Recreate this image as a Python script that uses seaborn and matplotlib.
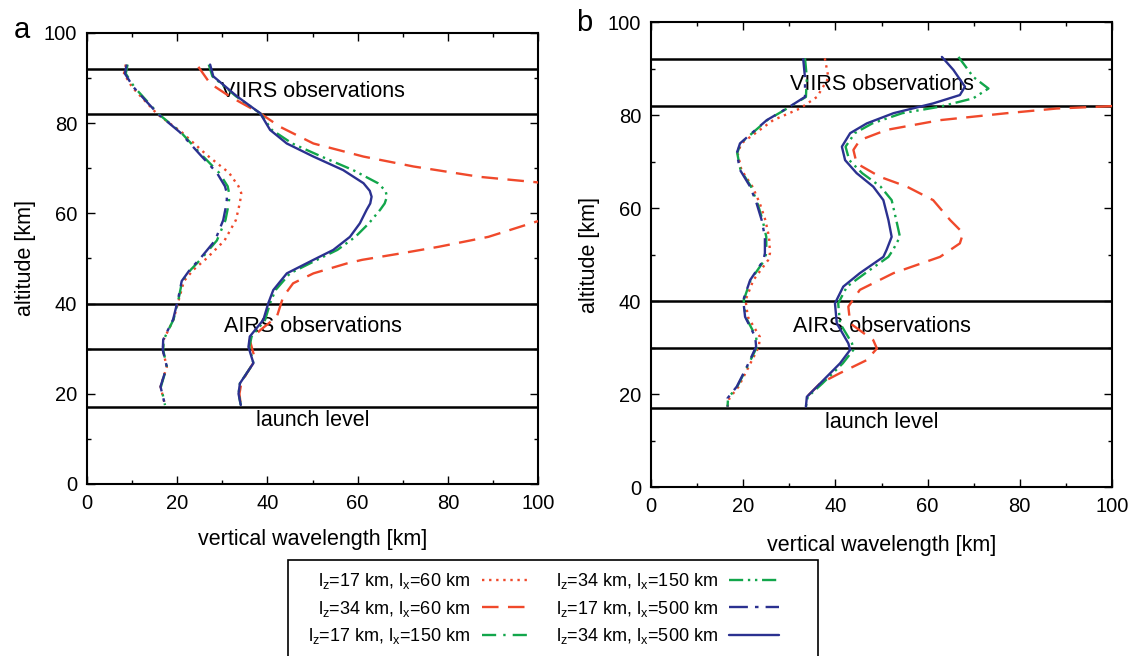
import numpy as np
import pandas as pd
import seaborn as sns
import matplotlib.pyplot as plt
from matplotlib.patches import Rectangle
from matplotlib.ticker import MultipleLocator

# ---- data: altitude [km] vs vertical wavelength [km] ----
# panel a
a_alt_17 = [93, 91, 88, 85, 82, 78, 73, 69, 66, 64.5, 63, 61, 58.5, 54, 50, 47.5, 45, 41, 36.5, 32, 29.7, 26, 21.6, 17.5]
a_17_60 = [8.6, 8.2, 10.0, 12.8, 15.6, 21.0, 26.5, 31.5, 33.6, 34.2, 34.0, 33.6, 33.0, 30.5, 26.5, 23.6, 21.5, 20.4, 19.2, 17.0, 16.8, 17.7, 16.3, 17.3]
a_17_150 = [9.0, 8.6, 10.5, 13.2, 15.9, 20.8, 25.4, 29.3, 31.2, 31.5, 31.5, 31.2, 30.7, 28.8, 25.4, 23.0, 21.1, 20.3, 19.2, 17.0, 16.9, 17.7, 16.4, 17.3]
a_17_500 = [8.8, 8.4, 10.3, 13.0, 15.8, 20.6, 25.1, 28.8, 30.6, 31.0, 31.0, 30.7, 30.2, 28.4, 25.1, 22.8, 21.0, 20.2, 19.1, 16.9, 16.8, 17.7, 16.3, 17.3]

a_alt_34 = [93, 90.4, 86, 82.2, 78.5, 75.5, 72.6, 69.6, 66.7, 65, 63.7, 62.2, 60.8, 57.8, 54.8, 51.9, 49.7, 46.7, 43, 40.1, 36.4, 32.7, 30.4, 26.8, 22.3, 20, 17.5]
a_34_150 = [27.0, 27.8, 33.0, 38.4, 41.0, 45.5, 52.0, 59.0, 64.5, 66.2, 66.5, 66.0, 65.0, 62.5, 59.5, 55.5, 51.0, 45.0, 41.8, 40.6, 39.5, 36.5, 36.0, 36.9, 33.9, 33.6, 34.1]
a_34_500 = [27.3, 28.0, 33.2, 38.4, 40.6, 44.3, 50.2, 56.8, 61.3, 62.7, 63.1, 62.8, 62.0, 60.5, 58.3, 54.6, 50.2, 44.3, 41.3, 40.2, 39.1, 36.1, 35.8, 36.9, 33.9, 33.6, 34.1]

a_alt_34_60 = [92.5, 88.8, 85.9, 82.2, 79.2, 75.5, 72.6, 70.4, 68.1, 66.9, 64, 61, 58.2, 54.8, 52.6, 51.2, 49.7, 48.9, 46.7,
               44.5, 41.5, 39.3, 37.1, 34.1, 31.9, 27.5, 24.5, 22.3, 20, 17.5]
a_34_60 = [24.7, 27.3, 31.7, 38.4, 42.8, 50.2, 61.3, 72.4, 87.1, 99.7, 120, 118, 99.7, 89.0, 78.0, 70.0, 61.0, 57.6, 50.2,
           45.7, 43.5, 42.8, 42.1, 38.4, 36.1, 37.3, 35.4, 34.2, 33.8, 34.1]

# panel b
b_alt_17 = [92.2, 88, 83.9, 81.4, 78.9, 73.9, 71.8, 68.2, 64.6, 61, 57.4, 53.8, 50.3, 48.8, 44.5, 40.2, 36.6, 32.3, 30.2, 25.9, 21.6, 19.1, 17.3]
b_17_60 = [37.7, 38.5, 36.0, 32.3, 26.5, 19.6, 18.8, 19.6, 22.0, 23.6, 24.8, 25.6, 25.8, 25.4, 22.2, 20.5, 21.0, 23.6, 23.4, 21.2, 19.0, 17.0, 16.6]
b_17_150 = [33.4, 33.8, 33.6, 29.5, 25.2, 19.4, 18.7, 19.4, 21.7, 23.1, 24.2, 25.0, 25.0, 24.6, 21.6, 20.1, 20.5, 22.8, 23.0, 20.9, 18.7, 16.7, 16.6]
b_17_500 = [33.0, 33.4, 33.4, 29.4, 25.1, 19.3, 18.6, 19.3, 21.5, 22.9, 24.0, 24.7, 24.7, 24.4, 21.5, 20.0, 20.4, 22.6, 22.8, 20.8, 18.6, 16.6, 16.6]

b_alt_34_150 = [92.5, 88.2, 85.7, 83.6, 81.8, 80.4, 78.2, 76.1, 73.2, 70.3, 67.5, 64.6, 61.7, 57.4, 53.8, 51, 49.5, 46, 43.1, 39.5, 35.2, 30.9, 29.5, 26.6, 22.3, 19.4, 17.3]
b_34_150 = [66.7, 69.9, 73.2, 69.9, 62.7, 54.5, 48.0, 44.2, 42.2, 43.0, 45.8, 49.8, 52.2, 53.2, 54.0, 52.5, 51.5, 46.5, 42.5, 40.6, 41.0, 43.6, 43.9, 41.6, 37.2, 34.0, 33.6]
b_alt_34_500 = [92.5, 89.7, 86.1, 84.3, 82.5, 80.4, 78.2, 76.1, 73.2, 70.3, 67.5, 64.6, 61.7, 57.4, 53.8, 51, 49.5, 46, 43.1, 39.5, 35.2, 30.9, 29.5, 26.6, 22.3, 19.4, 17.3]
b_34_500 = [63.1, 65.6, 68.1, 67.0, 61.2, 52.6, 46.8, 43.2, 41.4, 42.1, 44.6, 48.2, 50.4, 51.5, 52.2, 51.1, 50.4, 45.3, 41.7, 39.9, 40.3, 42.8, 43.2, 41.0, 36.7, 33.8, 33.6]
b_alt_34_60 = [84.5, 82.3, 81.9, 81.4, 80.4, 78.9, 76.8, 74.6, 72.5, 69.6, 66.7, 64.6, 61.7, 57.4, 54.6, 52.4, 49.5, 46, 42.4, 38.8, 35.2, 31.6, 29.8, 27.3, 24.5, 22.3, 19.4, 18]
b_34_60 = [130, 105, 99.6, 88.0, 77.2, 62.7, 51.1, 45.3, 43.9, 44.6, 49.7, 55.5, 61.2, 64.9, 67.7, 67.0, 62.7, 52.6, 45.3, 42.8, 43.2, 48.2, 49.0, 46.8, 41.0, 36.7, 33.8, 33.0]

# observation layers / launch level
layer_levels = [92, 82, 40, 30, 17]
layer_names = ['VIIRS observations', 'AIRS observations', 'launch level']
layer_label_alt = {'a': [87, 35, 14], 'b': [86.5, 34.6, 13.8]}

labels = ['l$_\\mathrm{z}$=17 km, l$_\\mathrm{x}$=60 km',
          'l$_\\mathrm{z}$=34 km, l$_\\mathrm{x}$=60 km',
          'l$_\\mathrm{z}$=17 km, l$_\\mathrm{x}$=150 km',
          'l$_\\mathrm{z}$=34 km, l$_\\mathrm{x}$=150 km',
          'l$_\\mathrm{z}$=17 km, l$_\\mathrm{x}$=500 km',
          'l$_\\mathrm{z}$=34 km, l$_\\mathrm{x}$=500 km']

red = '#f0492b'
green = '#12a64b'
blue = '#2b3190'
styles = [(red, (0, (1, 2))),
          (red, (0, (7, 4))),
          (green, (0, (6, 3, 1, 3))),
          (green, (0, (6, 2, 1, 2, 1, 2))),
          (blue, (0, (8, 3, 1.5, 3))),
          (blue, '-')]

panels = {
    'a': [(a_alt_17, a_17_60), (a_alt_34_60, a_34_60), (a_alt_17, a_17_150),
          (a_alt_34, a_34_150), (a_alt_17, a_17_500), (a_alt_34, a_34_500)],
    'b': [(b_alt_17, b_17_60), (b_alt_34_60, b_34_60), (b_alt_17, b_17_150),
          (b_alt_34_150, b_34_150), (b_alt_17, b_17_500), (b_alt_34_500, b_34_500)],
}

sns.set_style('ticks')
plt.rcParams['font.family'] = ['Liberation Sans', 'DejaVu Sans']
plt.rcParams['mathtext.fontset'] = 'custom'
plt.rcParams['mathtext.rm'] = 'Liberation Sans'
for key in ['text.color', 'axes.labelcolor', 'xtick.color', 'ytick.color']:
    plt.rcParams[key] = 'black'

fig = plt.figure(figsize=(11.37, 6.56), dpi=100)
ax_a = fig.add_axes([0.0765, 0.2622, 0.3967, 0.6875])
ax_b = fig.add_axes([0.5726, 0.2576, 0.4054, 0.7088])

for name, ax in [('a', ax_a), ('b', ax_b)]:
    for level in layer_levels:
        ax.axhline(level, color='black', lw=1.8, zorder=1)
    for (alt, lam), lab, (col, ls) in zip(panels[name], labels, styles):
        df = pd.DataFrame({'wavelength': lam, 'altitude': alt})
        sns.lineplot(data=df, x='wavelength', y='altitude', sort=False, estimator=None,
                     color=col, linestyle=ls, lw=1.7, label=lab, ax=ax, legend=False, zorder=3)
    for txt, y in zip(layer_names, layer_label_alt[name]):
        ax.text(50, y, txt, ha='center', va='center', fontsize=15.5, zorder=2)

    ax.set_xlim(0, 100)
    ax.set_ylim(0, 100)
    ax.xaxis.set_major_locator(MultipleLocator(20))
    ax.yaxis.set_major_locator(MultipleLocator(20))
    ax.xaxis.set_minor_locator(MultipleLocator(10))
    ax.yaxis.set_minor_locator(MultipleLocator(10))
    ax.tick_params(which='both', direction='in', top=True, right=True, labelsize=14.5, pad=7)
    ax.tick_params(which='major', length=6, width=1)
    ax.tick_params(which='minor', length=3, width=1)
    for sp in ax.spines.values():
        sp.set_linewidth(1.5)
        sp.set_color('black')
    ax.set_ylabel('altitude [km]', fontsize=15.5, labelpad=6)

ax_a.set_xlabel('vertical wavelength [km]', fontsize=15.5, labelpad=12)
ax_b.set_xlabel('vertical wavelength [km]', fontsize=15.5, labelpad=14)

fig.text(0.012, 0.955, 'a', fontsize=21, va='center')
fig.text(0.507, 0.965, 'b', fontsize=21, va='center')

# legend frame (runs off the bottom edge like the original)
fig.patches.append(Rectangle((288 / 1137, -0.02), 530 / 1137, 96 / 656 + 0.02,
                             transform=fig.transFigure, fill=False, ec='black', lw=1.2))
handles, labs = ax_a.get_legend_handles_labels()
leg = fig.legend(handles, labs,
                 loc='upper left', bbox_to_anchor=(308 / 1137, 1 - 571 / 656), borderaxespad=0,
                 ncol=2, markerfirst=False, fontsize=13, frameon=False,
                 handlelength=2.75, handletextpad=0.65, columnspacing=1.35,
                 labelspacing=0.42, borderpad=0)

fig.savefig('out.png', dpi=100)
